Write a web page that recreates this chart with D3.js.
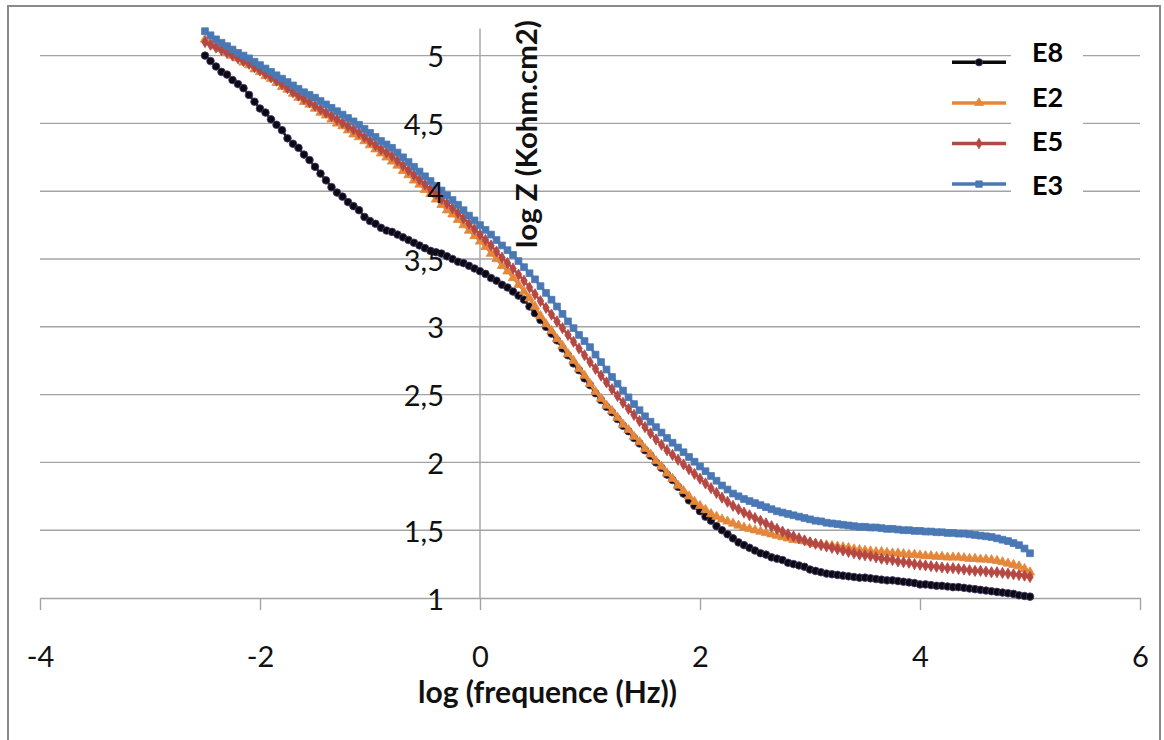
<!DOCTYPE html>
<html>
<head>
<meta charset="utf-8">
<script src="https://cdn.jsdelivr.net/npm/d3@7"></script>
<style>
  html, body { margin: 0; padding: 0; background: #fff; }
  svg { display: block; }
</style>
</head>
<body>
<svg id="chart" width="1164" height="740"></svg>
<script>
// ---------------- DATA ----------------
const logFreq = [
 -2.50,-2.45,-2.40,-2.35,-2.30,-2.25,-2.20,-2.15,-2.10,-2.05,
 -2.00,-1.95,-1.90,-1.85,-1.80,-1.75,-1.70,-1.65,-1.60,-1.55,
 -1.50,-1.45,-1.40,-1.35,-1.30,-1.25,-1.20,-1.15,-1.10,-1.05,
 -1.00,-0.95,-0.90,-0.85,-0.80,-0.75,-0.70,-0.65,-0.60,-0.55,
 -0.50,-0.45,-0.40,-0.35,-0.30,-0.25,-0.20,-0.15,-0.10,-0.05,
  0.00, 0.05, 0.10, 0.15, 0.20, 0.25, 0.30, 0.35, 0.40, 0.45,
  0.50, 0.55, 0.60, 0.65, 0.70, 0.75, 0.80, 0.85, 0.90, 0.95,
  1.00, 1.05, 1.10, 1.15, 1.20, 1.25, 1.30, 1.35, 1.40, 1.45,
  1.50, 1.55, 1.60, 1.65, 1.70, 1.75, 1.80, 1.85, 1.90, 1.95,
  2.00, 2.05, 2.10, 2.15, 2.20, 2.25, 2.30, 2.35, 2.40, 2.45,
  2.50, 2.55, 2.60, 2.65, 2.70, 2.75, 2.80, 2.85, 2.90, 2.95,
  3.00, 3.05, 3.10, 3.15, 3.20, 3.25, 3.30, 3.35, 3.40, 3.45,
  3.50, 3.55, 3.60, 3.65, 3.70, 3.75, 3.80, 3.85, 3.90, 3.95,
  4.00, 4.05, 4.10, 4.15, 4.20, 4.25, 4.30, 4.35, 4.40, 4.45,
  4.50, 4.55, 4.60, 4.65, 4.70, 4.75, 4.80, 4.85, 4.90, 4.95,
  5.00
];

const E8 = [
 5.00,4.96,4.92,4.88,4.86,4.82,4.79,4.76,4.71,4.66,
 4.61,4.58,4.53,4.49,4.45,4.39,4.35,4.32,4.27,4.23,
 4.18,4.13,4.08,4.03,3.99,3.96,3.92,3.89,3.86,3.81,
 3.78,3.76,3.73,3.71,3.70,3.68,3.66,3.64,3.62,3.60,
 3.58,3.56,3.55,3.54,3.52,3.50,3.48,3.47,3.45,3.43,
 3.41,3.39,3.36,3.34,3.31,3.29,3.26,3.23,3.20,3.15,
 3.10,3.05,3.00,2.95,2.90,2.84,2.79,2.73,2.68,2.62,
 2.57,2.51,2.46,2.41,2.37,2.32,2.27,2.23,2.18,2.14,
 2.09,2.05,2.00,1.96,1.91,1.87,1.82,1.77,1.72,1.68,
 1.64,1.60,1.57,1.53,1.50,1.47,1.44,1.41,1.39,1.37,
 1.35,1.33,1.32,1.30,1.29,1.28,1.26,1.25,1.24,1.23,
 1.21,1.20,1.19,1.18,1.175,1.17,1.165,1.16,1.155,1.15,
 1.15,1.145,1.14,1.135,1.13,1.13,1.125,1.12,1.115,1.11,
 1.10,1.10,1.095,1.09,1.09,1.085,1.08,1.08,1.075,1.07,
 1.065,1.06,1.055,1.05,1.045,1.04,1.035,1.03,1.02,1.015,
 1.01
];

const E2 = [
 5.12,5.10,5.07,5.05,5.02,5.00,4.98,4.95,4.93,4.90,
 4.88,4.85,4.83,4.80,4.77,4.75,4.72,4.69,4.66,4.64,
 4.61,4.58,4.56,4.53,4.50,4.48,4.45,4.42,4.40,4.37,
 4.34,4.31,4.28,4.25,4.22,4.19,4.15,4.12,4.08,4.05,
 4.01,3.98,3.94,3.90,3.86,3.83,3.79,3.75,3.71,3.67,
 3.63,3.59,3.54,3.50,3.45,3.41,3.36,3.31,3.26,3.21,
 3.15,3.08,3.02,2.97,2.91,2.86,2.80,2.75,2.69,2.64,
 2.58,2.52,2.47,2.42,2.38,2.33,2.28,2.24,2.19,2.15,
 2.10,2.06,2.01,1.97,1.92,1.88,1.83,1.79,1.75,1.71,
 1.68,1.65,1.62,1.60,1.58,1.565,1.55,1.535,1.52,1.51,
 1.50,1.49,1.48,1.47,1.46,1.45,1.44,1.43,1.425,1.42,
 1.41,1.40,1.395,1.39,1.385,1.38,1.375,1.37,1.36,1.355,
 1.35,1.345,1.34,1.34,1.335,1.33,1.33,1.325,1.32,1.32,
 1.315,1.31,1.31,1.305,1.305,1.30,1.30,1.30,1.295,1.29,
 1.29,1.285,1.285,1.28,1.275,1.265,1.255,1.245,1.235,1.215,
 1.19
];

const E5 = [
 5.10,5.08,5.06,5.04,5.02,5.00,4.98,4.96,4.94,4.915,
 4.89,4.865,4.84,4.815,4.79,4.76,4.73,4.705,4.68,4.655,
 4.63,4.605,4.58,4.555,4.53,4.505,4.48,4.455,4.43,4.40,
 4.37,4.34,4.31,4.285,4.26,4.225,4.19,4.155,4.12,4.085,
 4.05,4.015,3.98,3.945,3.91,3.875,3.84,3.80,3.76,3.72,
 3.68,3.64,3.60,3.555,3.51,3.47,3.43,3.385,3.34,3.29,
 3.24,3.19,3.14,3.09,3.04,2.99,2.94,2.89,2.84,2.79,
 2.74,2.69,2.64,2.59,2.54,2.49,2.44,2.395,2.35,2.305,
 2.26,2.215,2.17,2.13,2.09,2.055,2.02,1.985,1.95,1.915,
 1.88,1.845,1.81,1.775,1.74,1.71,1.68,1.655,1.63,1.61,
 1.59,1.57,1.55,1.53,1.51,1.49,1.47,1.455,1.44,1.425,
 1.41,1.40,1.39,1.38,1.37,1.36,1.35,1.34,1.33,1.32,
 1.315,1.31,1.30,1.29,1.285,1.28,1.27,1.265,1.26,1.25,
 1.245,1.24,1.235,1.23,1.225,1.22,1.22,1.215,1.21,1.205,
 1.20,1.20,1.195,1.19,1.19,1.185,1.18,1.175,1.17,1.165,
 1.155
];

const E3 = [
 5.18,5.15,5.12,5.095,5.07,5.045,5.02,5.00,4.98,4.955,
 4.93,4.905,4.88,4.855,4.83,4.805,4.78,4.755,4.73,4.71,
 4.69,4.665,4.64,4.615,4.59,4.565,4.54,4.515,4.49,4.46,
 4.43,4.40,4.37,4.345,4.32,4.285,4.25,4.215,4.18,4.145,
 4.11,4.075,4.04,4.005,3.97,3.935,3.90,3.86,3.82,3.785,
 3.75,3.715,3.68,3.64,3.60,3.565,3.53,3.485,3.44,3.395,
 3.35,3.30,3.25,3.20,3.15,3.095,3.04,2.99,2.94,2.895,
 2.85,2.795,2.74,2.685,2.63,2.58,2.53,2.48,2.43,2.385,
 2.34,2.30,2.26,2.22,2.18,2.145,2.11,2.075,2.04,2.005,
 1.97,1.935,1.90,1.865,1.83,1.80,1.77,1.75,1.73,1.715,
 1.70,1.685,1.67,1.655,1.64,1.63,1.62,1.61,1.60,1.59,
 1.58,1.57,1.565,1.555,1.55,1.545,1.54,1.535,1.53,1.525,
 1.525,1.52,1.52,1.515,1.51,1.51,1.505,1.50,1.50,1.495,
 1.495,1.49,1.49,1.485,1.485,1.48,1.48,1.475,1.475,1.47,
 1.465,1.46,1.455,1.45,1.44,1.43,1.42,1.405,1.39,1.365,
 1.33
];

const seriesNames = ["E8", "E2", "E5", "E3"];
const xTickValues = [-4, -2, 0, 2, 4, 6];
const yTickValues = [1, 1.5, 2, 2.5, 3, 3.5, 4, 4.5, 5];
const yTickLabels = ["1", "1,5", "2", "2,5", "3", "3,5", "4", "4,5", "5"];
const xTitle = "log (frequence (Hz))";
const yTitle = "log Z (Kohm.cm2)";

// ---------------- STYLE ----------------
const seriesData = { E8, E2, E5, E3 };
const styles = {
  E8: { color: "#0a0a0a", markFill: "#0b0912", markStroke: "#4a3b6e", symbol: d3.symbolCircle, size: 46 },
  E2: { color: "#E5873A", markFill: "#E5873A", markStroke: "#E5873A", symbol: d3.symbolTriangle, size: 38 },
  E5: { color: "#B54843", markFill: "#B54843", markStroke: "#B54843", symbol: d3.symbolDiamond, size: 36 },
  E3: { color: "#4A78B5", markFill: "#4A78B5", markStroke: "#4A78B5", symbol: d3.symbolSquare, size: 46 }
};

const svg = d3.select("#chart");
const FONT = "Lato, 'Open Sans', 'Liberation Sans', sans-serif";

// frame
svg.append("rect")
  .attr("x", 8).attr("y", 6).attr("width", 1152).attr("height", 800)
  .attr("fill", "#fff").attr("stroke", "#8a8a8a").attr("stroke-width", 2);

const x = d3.scaleLinear().domain([-4, 6]).range([40, 1140]);
const y = d3.scaleLinear().domain([1, 5.2]).range([598, 28.5]);

// gridlines
svg.append("g").selectAll("line")
  .data(yTickValues.filter(v => v > 1))
  .join("line")
  .attr("x1", x(-4)).attr("x2", x(6))
  .attr("y1", d => y(d)).attr("y2", d => y(d))
  .attr("stroke", "#a3a3a3").attr("stroke-width", 1.4);

// x axis
const xAxis = svg.append("g")
  .attr("transform", `translate(0,${y(1)})`)
  .call(d3.axisBottom(x).tickValues(xTickValues).tickSize(12).tickSizeOuter(0).tickPadding(36)
        .tickFormat(d => d < 0 ? "-" + Math.abs(d) : String(d)));
xAxis.select(".domain").attr("stroke", "#a3a3a3").attr("stroke-width", 1.4);
xAxis.selectAll(".tick line").attr("stroke", "#a3a3a3").attr("stroke-width", 1.4);
xAxis.selectAll(".tick text")
  .attr("font-family", FONT).attr("font-size", 29).attr("fill", "#111");

// y axis line (under the series)
svg.append("line")
  .attr("x1", x(0)).attr("x2", x(0)).attr("y1", y(1)).attr("y2", y(5.2))
  .attr("stroke", "#a3a3a3").attr("stroke-width", 1.4);

// helper to fit text width
function fitWidth(sel, target) {
  const node = sel.node();
  const w = node.getComputedTextLength();
  const fs = parseFloat(sel.attr("font-size"));
  if (w > 0) sel.attr("font-size", fs * target / w);
}

// axis titles
const xt = svg.append("text")
  .attr("x", 547.5).attr("y", 703)
  .attr("text-anchor", "middle")
  .attr("font-family", FONT).attr("font-weight", "bold").attr("font-size", 28)
  .attr("fill", "#111").text(xTitle);
fitWidth(xt, 259);

const yt = svg.append("text")
  .attr("transform", "translate(537,134) rotate(-90)")
  .attr("text-anchor", "middle")
  .attr("font-family", FONT).attr("font-weight", "bold").attr("font-size", 28)
  .attr("fill", "#111").text(yTitle);
fitWidth(yt, 228);

// series
const line = d3.line().x((d, i) => x(logFreq[i])).y(d => y(d));
const plot = svg.append("g");
seriesNames.forEach(name => {
  const s = styles[name];
  const vals = seriesData[name];
  const g = plot.append("g");
  g.append("path").datum(vals)
    .attr("d", line).attr("fill", "none")
    .attr("stroke", s.color).attr("stroke-width", 2.5);
  g.selectAll("path.m").data(vals).join("path")
    .attr("class", "m")
    .attr("transform", (d, i) => `translate(${x(logFreq[i])},${y(d)})`)
    .attr("d", d3.symbol().type(s.symbol).size(s.size))
    .attr("fill", s.markFill).attr("stroke", s.markStroke).attr("stroke-width", 0.8);
});

// y axis tick labels (drawn above the series, as in the reference)
const yAxis = svg.append("g")
  .attr("transform", `translate(${x(0)},0)`)
  .call(d3.axisLeft(y).tickValues(yTickValues).tickSize(0).tickSizeOuter(0).tickPadding(36)
        .tickFormat((d, i) => yTickLabels[i]));
yAxis.select(".domain").remove();
yAxis.selectAll(".tick text")
  .attr("font-family", FONT).attr("font-size", 29).attr("fill", "#111")
  .attr("dy", "0.38em");

// legend
const legend = svg.append("g");
legend.append("rect")
  .attr("x", 1011).attr("y", 36).attr("width", 72).attr("height", 172)
  .attr("fill", "#fff");
seriesNames.forEach((name, i) => {
  const s = styles[name];
  const ly = 62.3 + i * 40.6;
  legend.append("line")
    .attr("x1", 952).attr("x2", 1006).attr("y1", ly).attr("y2", ly)
    .attr("stroke", s.color).attr("stroke-width", 3.5);
  legend.append("path")
    .attr("transform", `translate(979,${ly})`)
    .attr("d", d3.symbol().type(s.symbol).size(s.size * 0.9))
    .attr("fill", s.markFill).attr("stroke", s.markStroke).attr("stroke-width", 0.8);
  legend.append("text")
    .attr("x", 1032).attr("y", 62.3 + i * 44.3)
    .attr("font-family", FONT).attr("font-weight", "bold").attr("font-size", 27)
    .attr("fill", "#000").text(name);
});
</script>
</body>
</html>
